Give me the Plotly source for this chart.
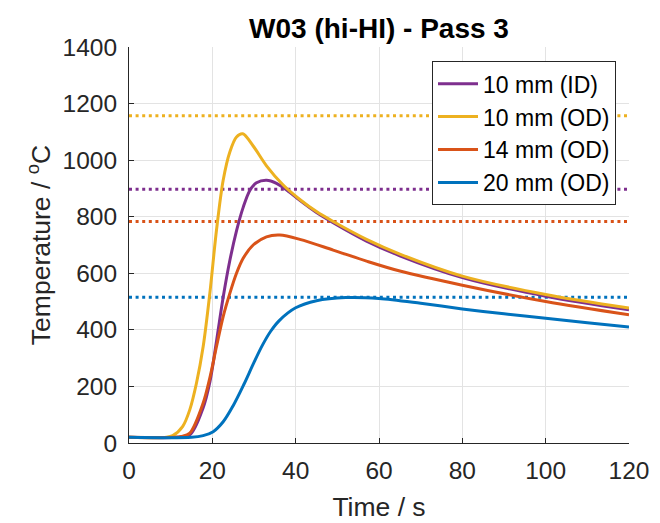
import plotly.graph_objects as go

# ---- data ----
series_names = ["10 mm (ID)", "10 mm (OD)", "14 mm (OD)", "20 mm (OD)"]
series_colors = ["#7E2F8E", "#EDB120", "#D95319", "#0072BD"]

t_id10 = [0, 11, 14.6, 17.8, 19.4, 21, 22.6, 24.2, 25.8, 27.4, 29, 30.6, 33, 35.4, 38, 41, 45, 49, 57, 65, 80, 100, 120]
T_id10 = [20, 20, 29, 125, 215, 360, 515, 645, 750, 833, 893, 920, 929, 918, 893, 858, 815, 779, 714, 662, 585, 519, 471]

t_od10 = [0, 9, 10.5, 12.9, 14.6, 16.2, 17.8, 19.4, 21, 22.6, 24.2, 25.8, 27.3, 29.8, 33, 37, 41, 45, 49, 57, 65, 80, 100, 120]
T_od10 = [20, 20, 26, 59, 118, 212, 341, 529, 753, 929, 1029, 1082, 1093, 1050, 980, 912, 861, 818, 783, 720, 668, 590, 525, 477]

t_od14 = [0, 11, 12.5, 14.6, 17.8, 19.4, 21, 22.6, 24.2, 25.8, 27.4, 29.8, 33, 36.2, 41, 49, 57, 65, 80, 100, 120]
T_od14 = [20, 20, 23, 35, 141, 230, 341, 447, 529, 600, 653, 700, 729, 735, 720, 682, 643, 608, 558, 500, 453]

t_od20 = [0, 15, 17.8, 20.2, 22.6, 25, 27.5, 30, 32, 34, 36, 40, 45, 52, 60, 70, 80, 90, 100, 110, 120]
T_od20 = [20, 20, 26, 40, 75, 132, 205, 285, 345, 395, 432, 478, 503, 514, 511, 494, 474, 457, 441, 425, 410]

# dotted reference levels (one per series)
ref_levels = [897, 1157, 783, 515]

x_range = [0, 120]
y_range = [0, 1400]
x_ticks = [0, 20, 40, 60, 80, 100, 120]
y_ticks = [0, 200, 400, 600, 800, 1000, 1200, 1400]

curves = [(t_id10, T_id10), (t_od10, T_od10), (t_od14, T_od14), (t_od20, T_od20)]

FONT = "Liberation Sans, Arial, Helvetica, sans-serif"
INK = "#262626"

fig = go.Figure()

# dotted horizontal reference lines
for lvl, col in zip(ref_levels, series_colors):
    fig.add_trace(go.Scatter(
        x=x_range, y=[lvl, lvl], mode="lines",
        line=dict(color=col, width=3, dash="3px,3.6px"),
        showlegend=False, hoverinfo="skip"))

# temperature curves
for (tx, ty), name, col in zip(curves, series_names, series_colors):
    fig.add_trace(go.Scatter(
        x=tx, y=ty, mode="lines", name=name,
        line=dict(color=col, width=3, shape="spline", smoothing=0.9)))

fig.update_layout(
    width=660, height=523,
    margin=dict(l=129, r=31, t=47, b=80),
    paper_bgcolor="white", plot_bgcolor="white",
    font=dict(family=FONT, color=INK, size=24),
    title=dict(text="<b>W03 (hi-HI) - Pass 3</b>", x=0.5, xref="paper",
               y=1 - 28 / 523, yref="container", yanchor="middle", xanchor="center",
               font=dict(family=FONT, size=28, color="black")),
    legend=dict(x=0.974, y=0.964, xanchor="right", yanchor="top",
                bgcolor="white", bordercolor=INK, borderwidth=1,
                font=dict(family=FONT, size=23, color="black"),
                tracegroupgap=0, itemwidth=40),
    showlegend=True,
)

fig.update_xaxes(
    range=x_range, tickvals=x_ticks, ticktext=[str(v) for v in x_ticks],
    showgrid=True, gridcolor="#e3e3e3", gridwidth=1,
    showline=True, linecolor=INK, linewidth=1,
    ticks="inside", ticklen=5, tickcolor=INK,
    zeroline=False, ticklabelstandoff=6, automargin=False,
    title=dict(text="Time / s", font=dict(family=FONT, size=26.5, color=INK), standoff=14),
    tickfont=dict(family=FONT, size=24.5, color=INK),
)
fig.update_yaxes(
    range=y_range, tickvals=y_ticks, ticktext=[str(v) for v in y_ticks],
    showgrid=True, gridcolor="#e3e3e3", gridwidth=1,
    showline=True, linecolor=INK, linewidth=1,
    ticks="inside", ticklen=5, tickcolor=INK,
    zeroline=False, ticklabelstandoff=6, automargin=False,
    title=dict(text="Temperature / <sup>o</sup>C", font=dict(family=FONT, size=26.5, color=INK), standoff=4),
    tickfont=dict(family=FONT, size=24.5, color=INK),
)

fig.write_html("out.html")
